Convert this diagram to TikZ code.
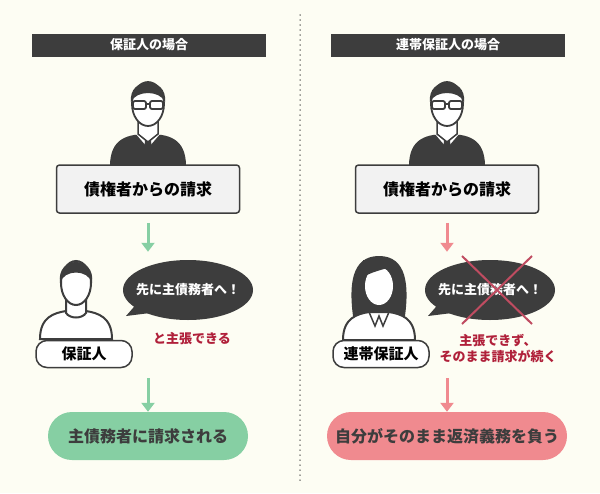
\documentclass[tikz,border=0pt]{standalone}
\usepackage{fontspec}
\setmainfont{Noto Sans CJK JP}
\usetikzlibrary{arrows.meta, positioning, shapes, calc}
\definecolor{bgcream}{HTML}{FDFDF3}
\definecolor{darkgray}{HTML}{3D3D3D}
\definecolor{boxgray}{HTML}{F2F2F2}
\definecolor{okgreen}{HTML}{86CFA3}
\definecolor{ngpink}{HTML}{F08A8F}
\definecolor{warnred}{HTML}{B0203A}
\tikzset{
  header/.style={fill=darkgray, text=white, font=\bfseries\fontsize{13}{15}\selectfont, minimum width=234pt, minimum height=23pt, inner sep=0pt},
  claimbox/.style={draw=darkgray, line width=1.5pt, fill=boxgray, rounded corners=3pt, minimum width=183pt, minimum height=48pt, font=\bfseries\fontsize{16}{18}\selectfont},
  namepill/.style={draw=darkgray, line width=1.5pt, fill=white, rounded corners=11pt, minimum height=27pt, font=\bfseries\fontsize{15}{17}\selectfont, inner xsep=6pt},
  resultpill/.style={rounded corners=24pt, minimum height=48pt, font=\bfseries\fontsize{16}{18}\selectfont, text=darkgray},
  bubble/.style={ellipse, fill=darkgray, text=white, font=\bfseries\fontsize{13}{15}\selectfont, minimum width=130pt, minimum height=60pt, inner xsep=-10pt, inner ysep=0pt},
  flow/.style={-{Triangle[width=13pt,length=9pt]}, line width=3pt},
  note/.style={text=warnred, font=\bfseries\fontsize{13}{16}\selectfont, align=center},
}
% person silhouettes
\newcommand{\bossicon}[1]{%
  \begin{scope}[shift={(#1)}]
    \fill[darkgray] (-38,90) .. controls (-38,62) and (-20,58) .. (0,58) .. controls (20,58) and (38,62) .. (38,90) -- cycle;
    \fill[white] (-12,58) -- (0,72) -- (12,58) -- cycle;
    \fill[darkgray] (-3,62) -- (3,62) -- (4,82) -- (0,88) -- (-4,82) -- cycle;
    \draw[darkgray, line width=1.5pt, fill=white] (-10,44) -- (-10,58) -- (0,66) -- (10,58) -- (10,44);
    \draw[darkgray, line width=1.8pt, fill=white] (0,28) ellipse (16pt and 22pt);
    \fill[darkgray] (-17,26) .. controls (-20,0) and (20,0) .. (17,26) .. controls (12,14) and (-12,14) .. cycle;
    \draw[darkgray, line width=1.8pt, rounded corners=2pt] (-15,25) rectangle (-2,33) (2,25) rectangle (15,33) (-2,28) -- (2,28);
  \end{scope}}
\newcommand{\manicon}[1]{%
  \begin{scope}[shift={(#1)}]
    \draw[darkgray, line width=2pt, fill=white] (-36,84) .. controls (-36,62) and (-22,58) .. (-10,56) -- (10,56) .. controls (22,58) and (36,62) .. (36,84) -- cycle;
    \draw[darkgray, line width=2pt, fill=white] (-10,44) -- (-10,58) .. controls (-6,64) and (6,64) .. (10,58) -- (10,44);
    \draw[darkgray, line width=2pt, fill=white] (0,28) ellipse (15pt and 22pt);
    \fill[darkgray] (-16,28) .. controls (-20,0) and (20,0) .. (16,28) .. controls (12,14) and (-12,14) .. cycle;
  \end{scope}}
\newcommand{\womanicon}[1]{%
  \begin{scope}[shift={(#1)}]
    \fill[darkgray] (-26,60) .. controls (-30,30) and (-28,0) .. (0,0) .. controls (28,0) and (30,30) .. (26,60) -- cycle;
    \draw[darkgray, line width=2pt, fill=white] (-36,84) .. controls (-36,62) and (-22,58) .. (-10,56) -- (10,56) .. controls (22,58) and (36,62) .. (36,84) -- cycle;
    \draw[darkgray, line width=1.5pt] (-10,56) -- (-4,70) -- (0,60) -- (4,70) -- (10,56);
    \fill[darkgray] (0,26) ellipse (17pt and 23pt);
    \fill[white] (0,30) ellipse (14pt and 19pt);
    \fill[darkgray] (-16,22) .. controls (-10,16) and (4,14) .. (14,10) -- (14,4) -- (-16,4) -- cycle;
  \end{scope}}

\begin{document}
\begin{tikzpicture}[x=1pt, y=-1pt]
  \fill[bgcream] (0,0) rectangle (600,493);
  \useasboundingbox (0,0) rectangle (600,493);
  \draw[darkgray, line width=1.5pt, dash pattern=on 0pt off 5pt, line cap=round] (300,15) -- (300,482);

  % guarantor
  \node[header] (headL) at (149,45) {保証人の場合};
  \bossicon{148,76}
  \node[claimbox] (claimL) at (148,189) {債権者からの請求};
  \manicon{76,255}
  \node[namepill, minimum width=96pt] (guarL) at (84,354) {保証人};
  \node[bubble] (bubbleL) at (188,290) {先に主債務者へ！};
  \fill[darkgray] (140,300) -- (126,316) -- (158,312) -- cycle;
  \node[note] (noteL) at (192,339) {と主張できる};
  \node[resultpill, fill=okgreen, minimum width=200pt] (resL) at (148,436) {主債務者に請求される};
  \draw[flow, okgreen] ([yshift=-9pt]claimL.south) -- +(0,-29pt);
  \draw[flow, okgreen] (148,378) -- (resL.north);

  % joint guarantor
  \node[header] (headR) at (448,45) {連帯保証人の場合};
  \bossicon{447,76}
  \node[claimbox] (claimR) at (447,189) {債権者からの請求};
  \womanicon{379,256}
  \node[namepill, minimum width=96pt] (guarR) at (381,354) {連帯保証人};
  \node[bubble] (bubbleR) at (490,290) {先に主債務者へ！};
  \fill[darkgray] (442,300) -- (428,316) -- (460,312) -- cycle;
  \draw[warnred!80, line width=2pt] (462,256) -- (532,324) (532,256) -- (462,324);
  \node[note] (noteR) at (498,349) {主張できず、\\そのまま請求が続く};
  \node[resultpill, fill=ngpink, minimum width=240pt] (resR) at (447,436) {自分がそのまま返済義務を負う};
  \draw[flow, ngpink] ([yshift=-9pt]claimR.south) -- +(0,-29pt);
  \draw[flow, ngpink] (447,378) -- (resR.north);
\end{tikzpicture}
\end{document}
